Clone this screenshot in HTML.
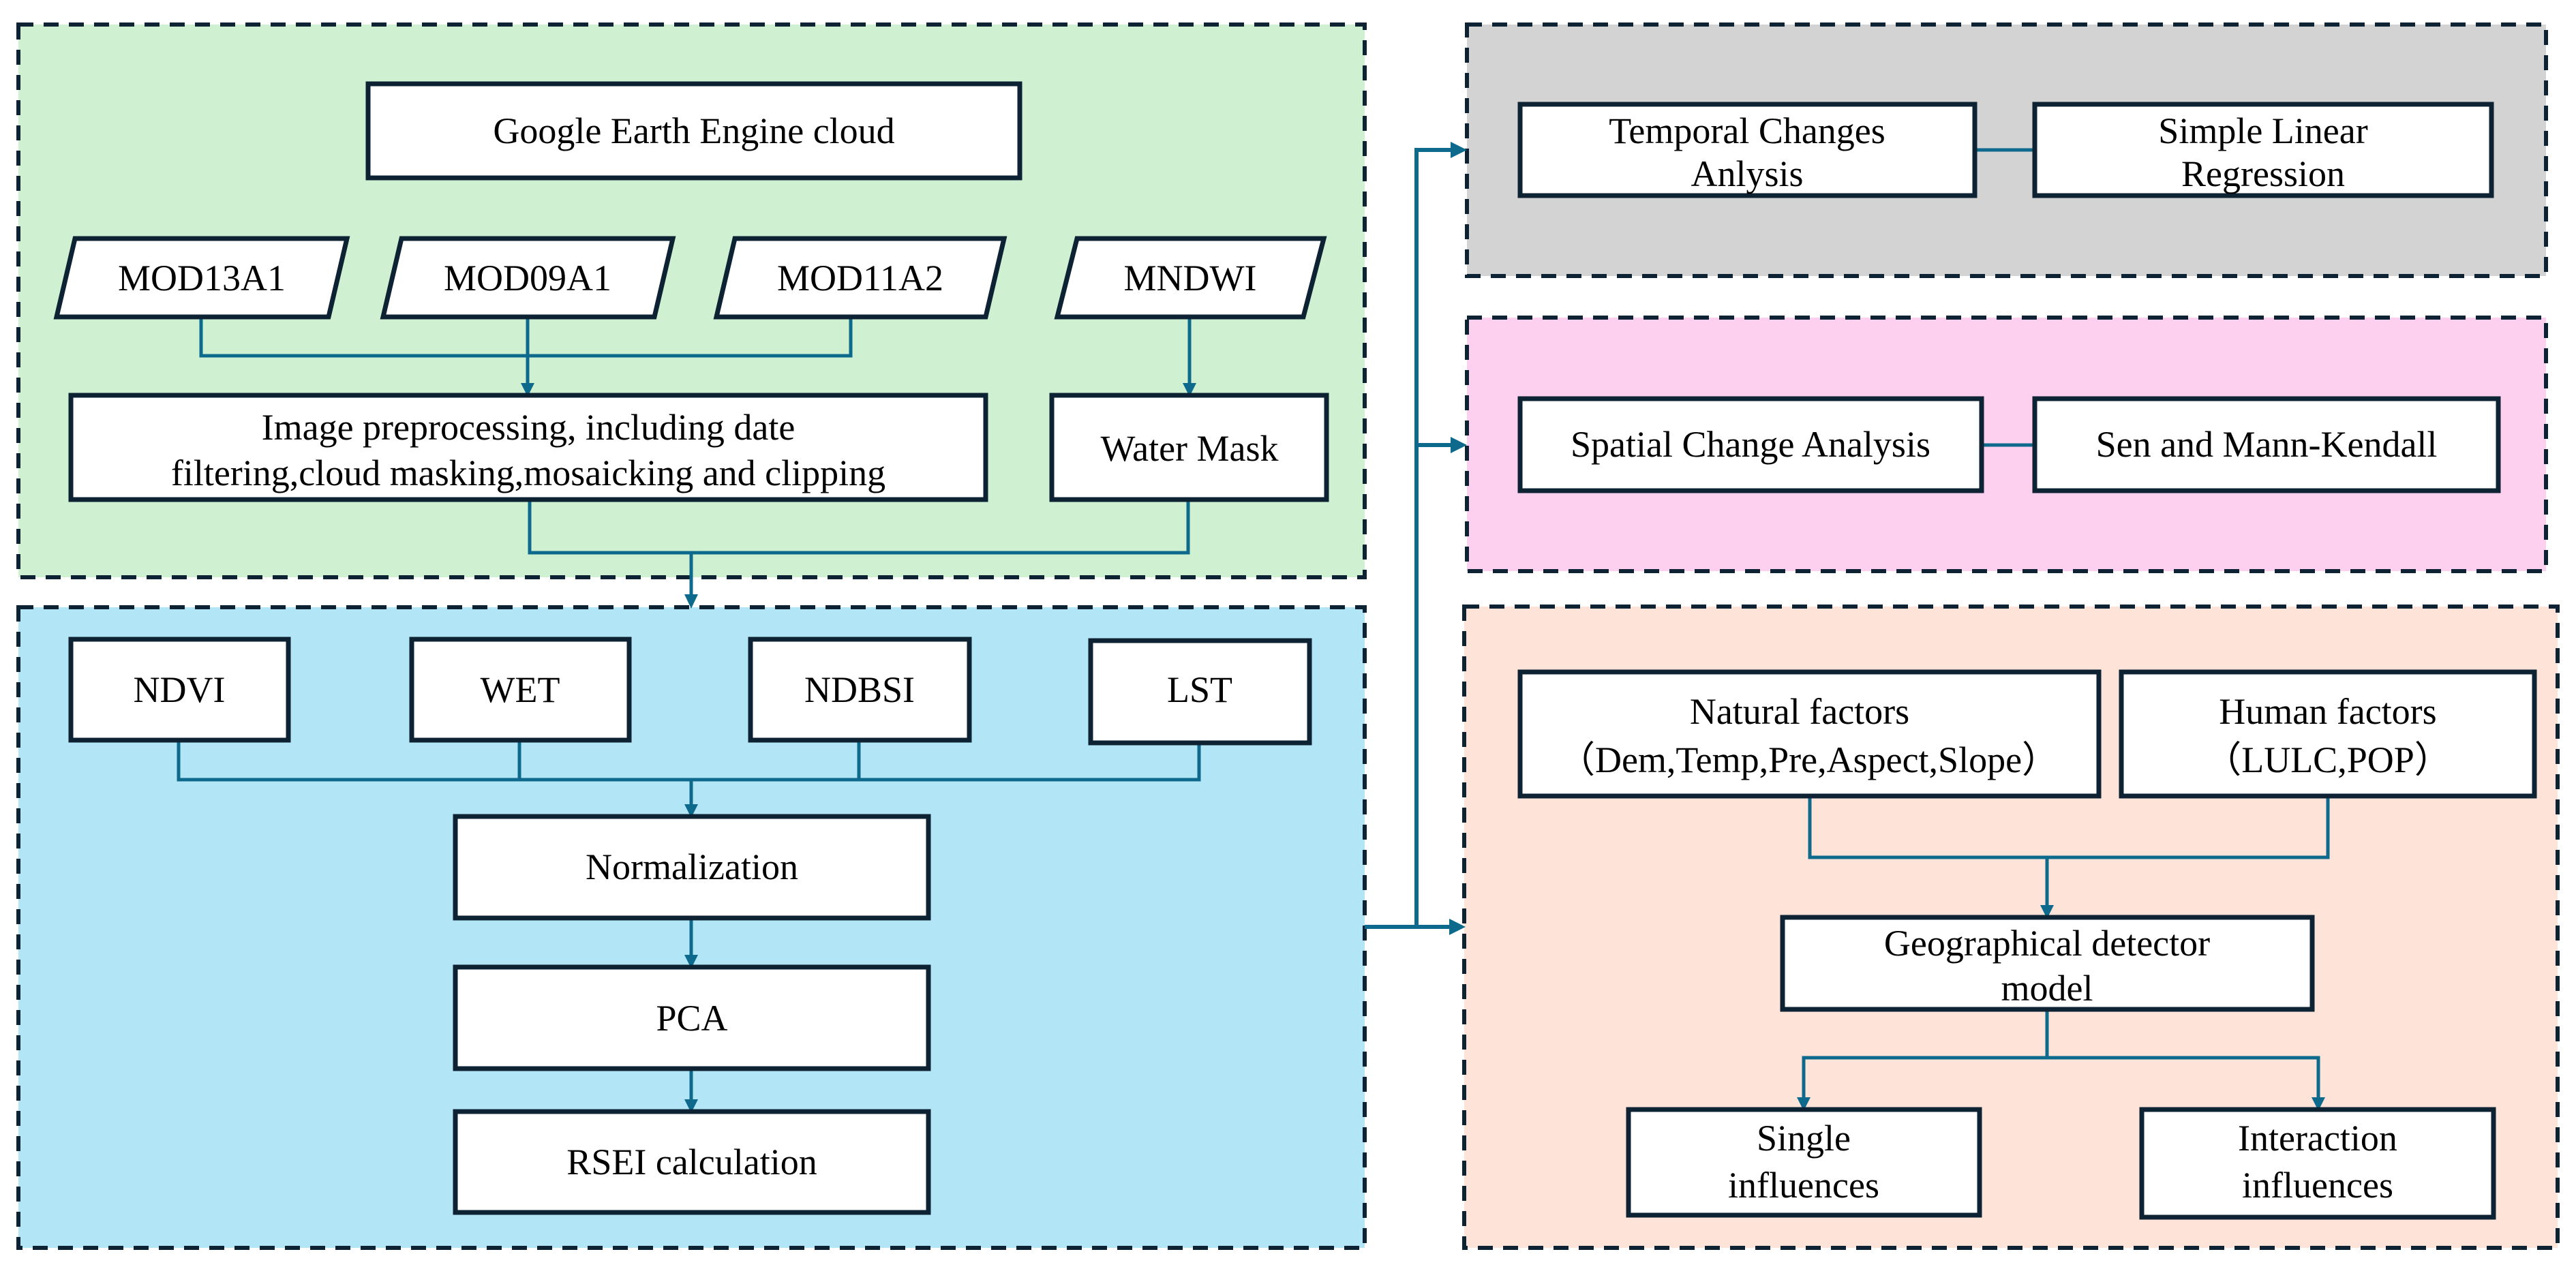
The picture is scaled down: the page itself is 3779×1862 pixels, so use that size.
<!DOCTYPE html>
<html><head><meta charset="utf-8"><style>
html,body{margin:0;padding:0;background:#fff;}
svg{display:block;}
text{font-family:"Liberation Serif",serif;font-size:54px;fill:#000;text-anchor:middle;}
.p{stroke:#0d2233;stroke-width:6;stroke-dasharray:22 15;}
.b{fill:#fff;stroke:#0d2233;stroke-width:7;}
.l{fill:none;stroke:#0e6a8c;stroke-width:5;}
.a{fill:#0e6a8c;}
</style></head><body>
<svg width="3779" height="1862" viewBox="0 0 3779 1862" xmlns="http://www.w3.org/2000/svg">
<!-- panels -->
<rect class="p" x="27" y="36" width="1975" height="811" fill="#cff1d1"/>
<rect class="p" x="27" y="891" width="1975" height="940" fill="#b2e5f5"/>
<rect class="p" x="2152" y="36" width="1583" height="369" fill="#d3d3d3"/>
<rect class="p" x="2152" y="466" width="1583" height="372" fill="#fdd0f0"/>
<rect class="p" x="2148" y="890" width="1604" height="941" fill="#fde3d8"/>

<!-- green panel connectors -->
<path class="l" d="M295 465V522H1248V465M774 465V570M1745 465V570M777 733V811H1743V733M1014 811V882"/>
<polygon class="a" points="764,562 784,562 774,582"/>
<polygon class="a" points="1735,562 1755,562 1745,582"/>
<polygon class="a" points="1004,872 1024,872 1014,893"/>

<rect class="b" x="540" y="123" width="956" height="138"/>
<text x="1018" y="210">Google Earth Engine cloud</text>
<polygon class="b" points="110,350 509,350 482,465 83,465"/>
<text x="296" y="426">MOD13A1</text>
<polygon class="b" points="589,350 987,350 960,465 562,465"/>
<text x="774" y="426">MOD09A1</text>
<polygon class="b" points="1078,350 1473,350 1446,465 1051,465"/>
<text x="1262" y="426">MOD11A2</text>
<polygon class="b" points="1580,350 1942,350 1912,465 1551,465"/>
<text x="1746" y="426">MNDWI</text>
<rect class="b" x="104" y="580" width="1342" height="153"/>
<text x="775" y="645">Image preprocessing, including date</text>
<text x="775" y="712">filtering,cloud masking,mosaicking and clipping</text>
<rect class="b" x="1543" y="580" width="403" height="153"/>
<text x="1745" y="676">Water Mask</text>

<!-- blue panel -->
<path class="l" d="M262 1086V1144H1759V1090M762 1086V1144M1260 1086V1144M1014 1144V1190M1014 1347V1410M1014 1568V1622"/>
<polygon class="a" points="1004,1180 1024,1180 1014,1200"/>
<polygon class="a" points="1004,1401 1024,1401 1014,1421"/>
<polygon class="a" points="1004,1613 1024,1613 1014,1633"/>
<rect class="b" x="104" y="938" width="319" height="148"/>
<text x="263" y="1030">NDVI</text>
<rect class="b" x="604" y="938" width="319" height="148"/>
<text x="763" y="1030">WET</text>
<rect class="b" x="1101" y="938" width="321" height="148"/>
<text x="1261" y="1030">NDBSI</text>
<rect class="b" x="1600" y="940" width="321" height="150"/>
<text x="1760" y="1030">LST</text>
<rect class="b" x="668" y="1198" width="694" height="149"/>
<text x="1015" y="1290">Normalization</text>
<rect class="b" x="668" y="1419" width="694" height="149"/>
<text x="1015" y="1512">PCA</text>
<rect class="b" x="668" y="1631" width="694" height="148"/>
<text x="1015" y="1723">RSEI calculation</text>

<!-- trunk -->
<path class="l" d="M2002 1360H2078V220H2130M2078 653H2130M2078 1360H2130" style="stroke-width:6"/>
<polygon class="a" points="2128,208 2152,220 2128,232"/>
<polygon class="a" points="2128,641 2152,653 2128,665"/>
<polygon class="a" points="2126,1348 2150,1360 2126,1372"/>

<!-- gray -->
<path class="l" d="M2897 220H2985M2907 653H2985"/>
<rect class="b" x="2230" y="153" width="667" height="134"/>
<text x="2563" y="210">Temporal Changes</text>
<text x="2563" y="273">Anlysis</text>
<rect class="b" x="2985" y="153" width="670" height="134"/>
<text x="3320" y="210">Simple Linear</text>
<text x="3320" y="273">Regression</text>
<!-- pink -->
<rect class="b" x="2230" y="585" width="677" height="135"/>
<text x="2568" y="670">Spatial Change Analysis</text>
<rect class="b" x="2985" y="585" width="680" height="135"/>
<text x="3325" y="670">Sen and Mann-Kendall</text>

<!-- orange -->
<path class="l" d="M2655 1168V1258H3415V1168M3003 1258V1336M3003 1481V1552H2646V1618M3003 1552H3401V1618"/>
<polygon class="a" points="2993,1328 3013,1328 3003,1348"/>
<polygon class="a" points="2636,1610 2656,1610 2646,1630"/>
<polygon class="a" points="3391,1610 3411,1610 3401,1630"/>
<rect class="b" x="2230" y="986" width="849" height="182"/>
<text x="2640" y="1062">Natural factors</text>
<text x="2653" y="1133">（Dem,Temp,Pre,Aspect,Slope）</text>
<rect class="b" x="3112" y="986" width="606" height="182"/>
<text x="3415" y="1062">Human factors</text>
<text x="3415" y="1133">（LULC,POP）</text>
<rect class="b" x="2615" y="1346" width="777" height="135"/>
<text x="3003" y="1402">Geographical detector</text>
<text x="3003" y="1468">model</text>
<rect class="b" x="2389" y="1628" width="515" height="155"/>
<text x="2646" y="1688">Single</text>
<text x="2646" y="1757">influences</text>
<rect class="b" x="3142" y="1628" width="516" height="158"/>
<text x="3400" y="1688">Interaction</text>
<text x="3400" y="1757">influences</text>
</svg>
</body></html>
